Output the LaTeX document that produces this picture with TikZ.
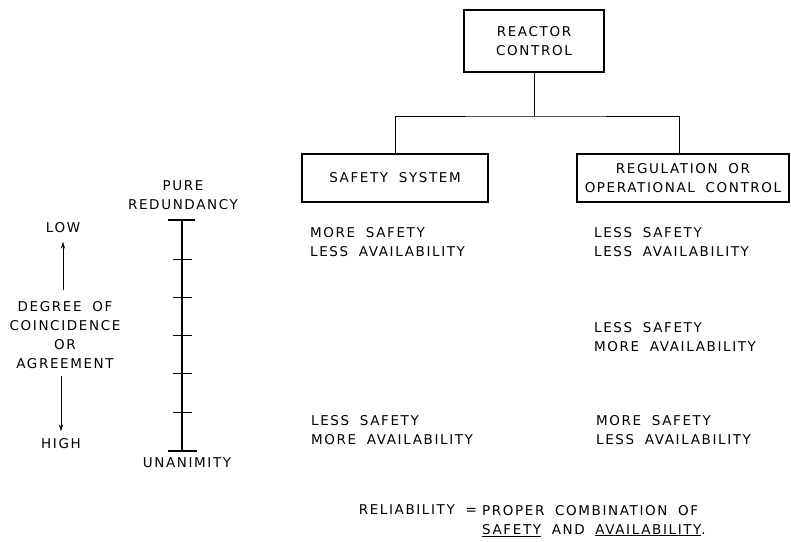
\documentclass[tikz,border=0pt]{standalone}
\usepackage{fontspec}
\setmainfont{DejaVu Sans}[LetterSpace=12,WordSpace=1.8]
\usetikzlibrary{arrows.meta}
\begin{document}
\begin{tikzpicture}[x=1pt,y=-1pt,font=\fontsize{13.5}{19}\selectfont,
        box/.style={draw,line width=1.2pt,minimum height=48pt,align=center},
        txt/.style={align=left,anchor=north west,inner sep=0pt},
        arw/.style={-{Stealth[length=7pt,width=4pt]},line width=0.6pt}]
        \useasboundingbox (0,0) rectangle (791,541);
        \node[box,minimum width=140pt,minimum height=62pt] (rc) at (534,41) {REACTOR\\CONTROL};
        \node[box,minimum width=186pt] (ss) at (395,178) {SAFETY SYSTEM};
        \node[box,minimum width=212pt] (rg) at (683,178) {REGULATION OR\\OPERATIONAL CONTROL};
        \coordinate (j) at (534,116);
        \draw[line width=1pt] (rc.south) -- (j);
        \draw[line width=1pt] (ss.north) |- (j) -| ([xshift=-4pt]rg.north);
        \node[txt] (ss1) at (310,227) {MORE SAFETY\\LESS AVAILABILITY};
        \node[txt] (ss2) at (311,415) {LESS SAFETY\\MORE AVAILABILITY};
        \node[txt] (rg1) at (594,227) {LESS SAFETY\\LESS AVAILABILITY};
        \node[txt] (rg2) at (594,322) {LESS SAFETY\\MORE AVAILABILITY};
        \node[txt] (rg3) at (596,415) {MORE SAFETY\\LESS AVAILABILITY};
        \coordinate (top) at (182,220);
        \coordinate (bot) at (182,451);
        \draw[line width=1.2pt] (top) -- (bot);
        \draw[line width=1.2pt] ([xshift=-14pt]top) -- ([xshift=13pt]top);
        \draw[line width=1.2pt] ([xshift=-14pt]bot) -- ([xshift=15pt]bot);
        \foreach \y in {259,297,335,373,412}
          \draw[line width=1pt] (173,\y) -- (192,\y);
        \node[anchor=south,align=center,inner sep=0pt] (pure) at (183,210) {PURE\\REDUNDANCY};
        \node (unan) at (187,463) {UNANIMITY};
        \node (low) at (63,228) {LOW};
        \node[align=center] (deg) at (65,335) {DEGREE OF\\COINCIDENCE\\OR\\AGREEMENT};
        \node (high) at (61,444) {HIGH};
        \draw[arw,shorten <=8pt,shorten >=5pt] (deg.north -| low) -- (low.south);
        \draw[arw,shorten <=4pt,shorten >=4pt] (deg.south -| high) -- (high.north);
        \node[anchor=east,inner sep=0pt] (rel) at (477,510) {RELIABILITY =};
        \node[txt] (comb) at (482,505) {PROPER COMBINATION OF\\\underline{SAFETY} AND \underline{AVAILABILITY}.};
\end{tikzpicture}
\end{document}
